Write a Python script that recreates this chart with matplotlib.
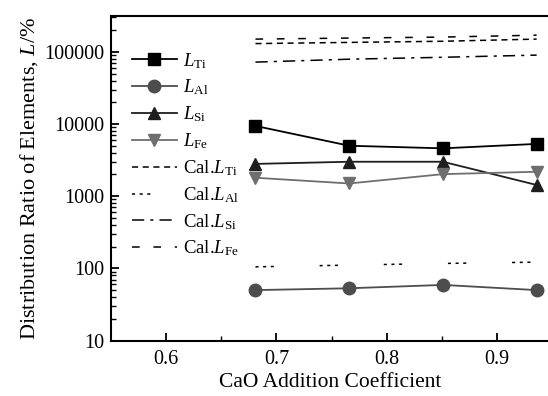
import numpy as np
import matplotlib
matplotlib.use("Agg")
import matplotlib.pyplot as plt

plt.rcParams['font.family'] = ['Liberation Serif', 'DejaVu Serif']
plt.rcParams['mathtext.fontset'] = 'custom'
plt.rcParams['mathtext.rm'] = 'Liberation Serif'
plt.rcParams['mathtext.it'] = 'Liberation Serif:italic'

# CaO addition coefficient
cao = [0.681, 0.766, 0.851, 0.936]

# measured distribution ratios
L_Ti = [9400, 5000, 4600, 5300]
L_Al = [50, 53, 59, 50]
L_Si = [2800, 3000, 3000, 1430]
L_Fe = [1800, 1500, 2020, 2180]

# calculated distribution ratios
cal_Ti = [130000, 135000, 140000, 150000]
cal_Al = [105, 111, 117, 122]
cal_Si = [72000, 79000, 84000, 90000]
cal_Fe = [150000, 155000, 160000, 170000]

fig = plt.figure(figsize=(5.48, 3.96), dpi=100)
ax = fig.add_axes([0.2026, 0.140, 0.80, 0.820])

ax.plot(cao, L_Ti, '-s', color='black', lw=1.3, ms=9, label=r'$L_{\rm Ti}$')
ax.plot(cao, L_Al, '-o', color='#4d4d4d', lw=1.3, ms=9, label=r'$L_{\rm Al}$')
ax.plot(cao, L_Si, '-^', color='#1e1e1e', lw=1.3, ms=9, label=r'$L_{\rm Si}$')
ax.plot(cao, L_Fe, '-v', color='#6e6e6e', lw=1.3, ms=9, label=r'$L_{\rm Fe}$')

ax.plot(cao, cal_Ti, color='black', lw=1.1, ls=(0, (4, 3)), label=r'Cal.$L_{\rm Ti}$')
ax.plot(cao, cal_Al, color='black', lw=1.1, ls=(0, (2, 3, 2, 3, 2, 30)), label=r'Cal.$L_{\rm Al}$')
ax.plot(cao, cal_Si, color='black', lw=1.1, ls=(0, (8, 4, 2, 4)), label=r'Cal.$L_{\rm Si}$')
ax.plot(cao, cal_Fe, color='black', lw=1.1, ls=(0, (5, 9)), label=r'Cal.$L_{\rm Fe}$')

ax.set_yscale('log')
ax.set_ylim(10, 3.15e5)
ax.set_xlim(0.55, 0.9476)
ax.set_xticks([0.6, 0.7, 0.8, 0.9])
ax.set_xticks([0.65, 0.75, 0.85], minor=True)
ax.set_yticks([10, 100, 1000, 10000, 100000])
ax.set_yticklabels(['10', '100', '1000', '10000', '100000'])

ax.tick_params(which='both', direction='in', labelsize=14.5)
ax.tick_params(which='major', length=6, width=1.3)
ax.tick_params(which='minor', length=3.5, width=1.0)
ax.tick_params(axis='y', pad=5)
ax.tick_params(axis='x', pad=7)
for side in ['left', 'bottom', 'top']:
    ax.spines[side].set_linewidth(1.5)
ax.spines['right'].set_visible(False)

ax.set_xlabel('CaO Addition Coefficient', fontsize=15.5, labelpad=3)
ax.set_ylabel(r'Distribution Ratio of Elements, $L$/%', fontsize=16, labelpad=3)

ax.legend(loc='upper left', bbox_to_anchor=(0.03, 0.915), frameon=False,
          fontsize=13.5, handlelength=2.4, handletextpad=0.35, labelspacing=0.38,
          borderaxespad=0)

fig.savefig('out.png', dpi=100)
